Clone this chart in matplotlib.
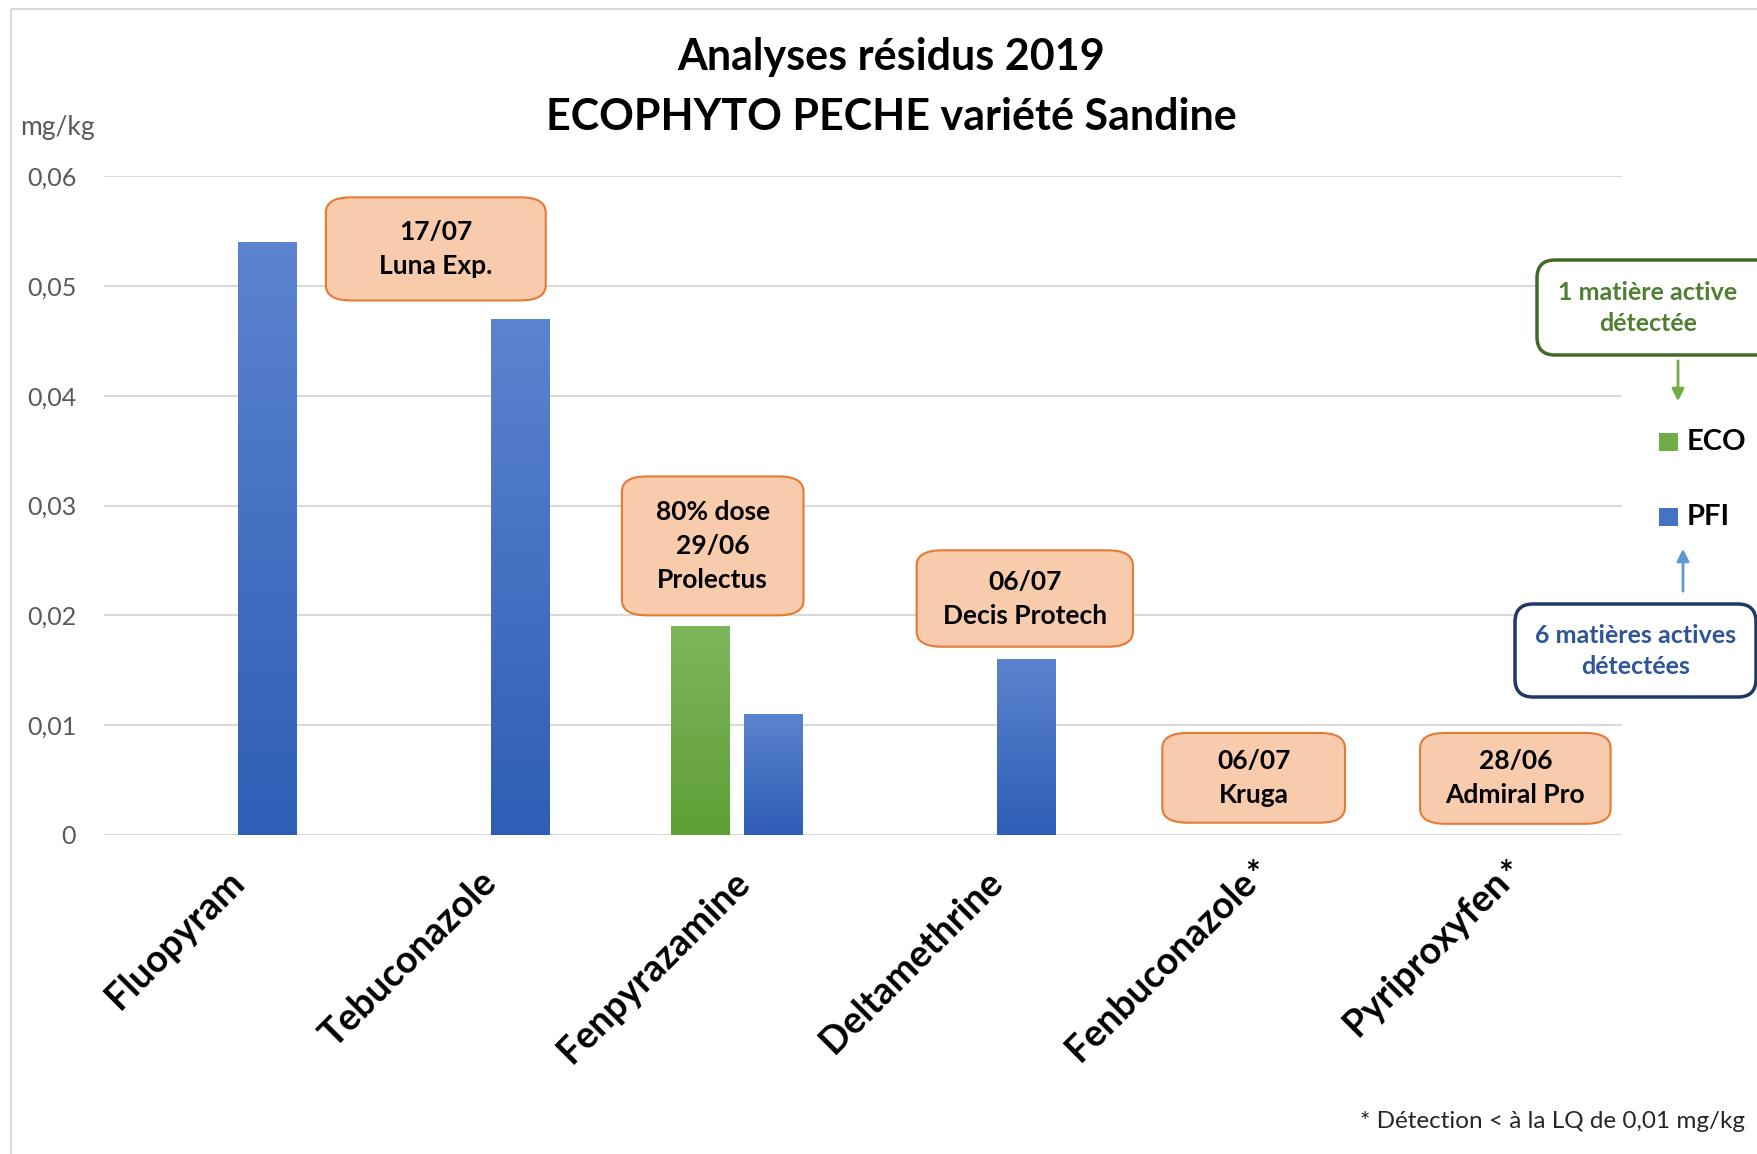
import numpy as np
import matplotlib.pyplot as plt
from matplotlib.patches import FancyBboxPatch, Rectangle
from matplotlib.colors import LinearSegmentedColormap
from matplotlib.ticker import FuncFormatter

plt.rcParams['font.family'] = ['Lato', 'DejaVu Sans']

# données
molecules = ["Fluopyram", "Tebuconazole", "Fenpyrazamine", "Deltamethrine", "Fenbuconazole", "Pyriproxyfen"]
eco = [0, 0, 0.019, 0, 0, 0]
pfi = [0.054, 0.047, 0.011, 0.016, 0, 0]
etoile = [False, False, False, False, True, True]

notes = ["17/07\nLuna Exp.", "80% dose\n29/06\nProlectus", "06/07\nDecis Protech", "06/07\nKruga", "28/06\nAdmiral Pro"]
# boites (x0, x1, y0, y1) en unités des axes
boites = [(0.377, 1.246, 0.04867, 0.05806),
          (1.547, 2.265, 0.0200, 0.03265),
          (2.712, 3.567, 0.01714, 0.02592),
          (3.683, 4.405, 0.00112, 0.00929),
          (4.702, 5.455, 0.00102, 0.00929)]

W, H = 1758, 1154
fig = plt.figure(figsize=(W / 100, H / 100), dpi=100)
ax = fig.add_axes([104 / W, 1 - 835 / H, (1622 - 104) / W, (835 - 176) / H])

x = np.arange(len(molecules))
largeur = 0.23
decal = 0.143


def barre_degrade(ax, xc, h, haut, bas):
    if h <= 0:
        return
    r = Rectangle((xc - largeur / 2, 0), largeur, h, facecolor='none', edgecolor='none')
    ax.add_patch(r)
    grad = np.linspace(0, 1, 100).reshape(-1, 1)
    cm = LinearSegmentedColormap.from_list('g', [haut, bas])
    im = ax.imshow(grad, cmap=cm, aspect='auto', origin='upper',
                   extent=(xc - largeur / 2, xc + largeur / 2, 0, h), zorder=2)
    im.set_clip_path(r)


for i in range(len(molecules)):
    if eco[i] > 0:
        barre_degrade(ax, x[i] - decal, eco[i], '#7DB65C', '#5E9F35')
    barre_degrade(ax, x[i] + decal, pfi[i], '#5B83CF', '#2E5EB6')

ax.set_xlim(-0.5, len(molecules) - 0.5)
ax.set_ylim(0, 0.06)
ax.set_yticks(np.arange(0, 0.061, 0.01))
ax.yaxis.set_major_formatter(FuncFormatter(lambda v, p: "0" if v == 0 else f"{v:.2f}".replace('.', ',')))
ax.grid(axis='y', color='#D9D9D9', linewidth=1.5, zorder=0)
ax.set_axisbelow(True)
for s in ax.spines.values():
    s.set_visible(False)
ax.tick_params(axis='y', length=0, labelsize=18, labelcolor='#595959', pad=20)
ax.tick_params(axis='x', length=0, pad=30)
ax.set_xticks(x + 0.03)
ax.set_xticklabels(molecules, rotation=45, ha='right', va='center', rotation_mode='anchor',
                   fontsize=27, fontweight='bold')

for i, e in enumerate(etoile):
    if e:
        ax.text(x[i] + 0.04, -0.0036, "*", ha='center', va='center', fontsize=25,
                fontweight='bold', clip_on=False)

for txt, (x0, x1, y0, y1) in zip(notes, boites):
    p = FancyBboxPatch((x0, y0), x1 - x0, y1 - y0,
                       boxstyle="round,pad=0,rounding_size=0.1",
                       mutation_aspect=0.06 / 6 * 253 / 110 * 0.6,
                       facecolor='#F8CBAD', edgecolor='#E57A35', linewidth=1.5, zorder=4)
    ax.add_patch(p)
    ax.text((x0 + x1) / 2, (y0 + y1) / 2, txt, ha='center', va='center', fontsize=19,
            fontweight='bold', linespacing=1.5, zorder=5)

# calque en pixels pour le reste
ov = fig.add_axes([0, 0, 1, 1], facecolor='none')
ov.set_xlim(0, W)
ov.set_ylim(H, 0)
ov.axis('off')

ov.add_patch(Rectangle((11, 9), W + 10, H + 10, facecolor='none', edgecolor='#D9D9D9', linewidth=1.5))

ov.text(891, 57, "Analyses résidus 2019", ha='center', va='center', fontsize=31, fontweight='bold')
ov.text(891, 117, "ECOPHYTO PECHE variété Sandine", ha='center', va='center', fontsize=31, fontweight='bold')
ov.text(20, 127, "mg/kg", ha='left', va='center', fontsize=19, color='#595959')
ov.text(1745, 1121, "* Détection < à la LQ de 0,01 mg/kg", ha='right', va='center', fontsize=17.5, color='#262626')

# légende
ov.add_patch(Rectangle((1659, 433), 19, 18, facecolor='#70AD47', edgecolor='none'))
ov.text(1687, 442, "ECO", ha='left', va='center', fontsize=21, fontweight='bold')
ov.add_patch(Rectangle((1659, 508), 19, 18, facecolor='#4472C4', edgecolor='none'))
ov.text(1687, 517, "PFI", ha='left', va='center', fontsize=21, fontweight='bold')

ov.add_patch(FancyBboxPatch((1537, 260), 240, 95, boxstyle="round,pad=0,rounding_size=18",
                            facecolor='white', edgecolor='#3F6A28', linewidth=2.5))
ov.text(1648, 308, "1 matière active\ndétectée", ha='center', va='center', fontsize=18,
        fontweight='bold', color='#507E32', linespacing=1.45)
ov.add_patch(FancyBboxPatch((1515, 604), 241, 93, boxstyle="round,pad=0,rounding_size=18",
                            facecolor='white', edgecolor='#203864', linewidth=2.5))
ov.text(1636, 651, "6 matières actives\ndétectées", ha='center', va='center', fontsize=18,
        fontweight='bold', color='#2F5597', linespacing=1.45)

ov.annotate("", xy=(1678, 404), xytext=(1678, 358),
            arrowprops=dict(arrowstyle='-|>', color='#70AD47', lw=2, mutation_scale=18))
ov.annotate("", xy=(1683, 546), xytext=(1683, 594),
            arrowprops=dict(arrowstyle='-|>', color='#5B9BD5', lw=2, mutation_scale=18))

fig.savefig("out.png", dpi=100)
